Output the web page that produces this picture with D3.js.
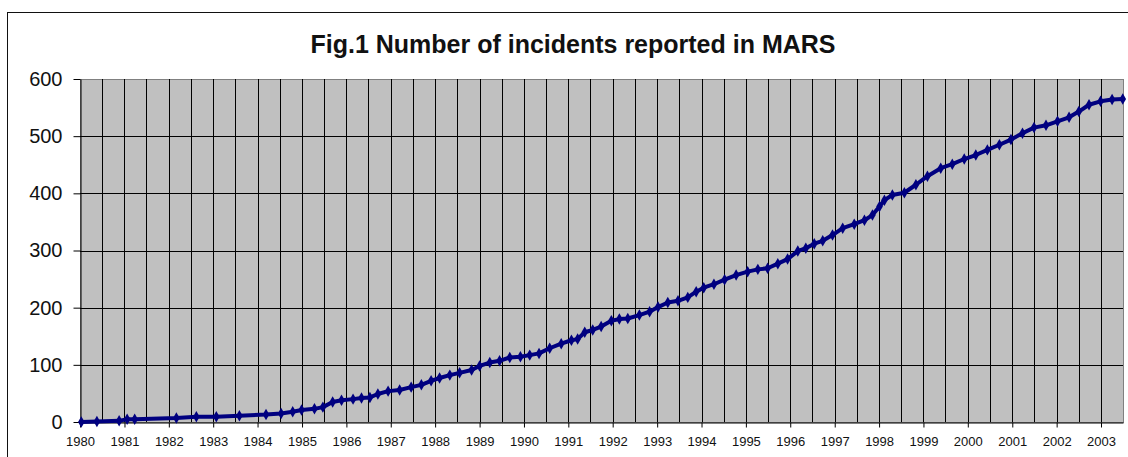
<!DOCTYPE html>
<html>
<head>
<meta charset="utf-8">
<script src="https://cdn.jsdelivr.net/npm/d3@7"></script>
<style>
    body { margin: 0; background: white; }
    svg { font-family: "Liberation Sans", Arial, sans-serif; }
</style>
</head>
<body>
<div id="graphe"></div>
<script>
// data: decimal year of report, cumulative count
const annees = [
    1980.03, 1980.38, 1980.88, 1981.06, 1981.23, 1982.17, 1982.62, 1983.07, 1983.59, 1984.19,
    1984.53, 1984.79, 1984.99, 1985.28, 1985.47, 1985.69, 1985.89, 1986.15, 1986.34, 1986.53,
    1986.71, 1986.94, 1987.20, 1987.46, 1987.69, 1987.91, 1988.10, 1988.33, 1988.55, 1988.82,
    1989.00, 1989.23, 1989.45, 1989.68, 1989.92, 1990.13, 1990.34, 1990.58, 1990.84, 1991.07,
    1991.21, 1991.37, 1991.55, 1991.74, 1991.97, 1992.15, 1992.34, 1992.60, 1992.83, 1993.02,
    1993.24, 1993.47, 1993.69, 1993.88, 1994.05, 1994.28, 1994.52, 1994.78, 1995.04, 1995.27,
    1995.49, 1995.72, 1995.94, 1996.17, 1996.35, 1996.54, 1996.73, 1996.95, 1997.18, 1997.44,
    1997.67, 1997.85, 1998.01, 1998.12, 1998.30, 1998.57, 1998.83, 1999.09, 1999.39, 1999.65,
    1999.92, 2000.18, 2000.44, 2000.71, 2000.97, 2001.23, 2001.49, 2001.76, 2002.02, 2002.28,
    2002.50, 2002.73, 2002.99, 2003.25, 2003.49
];
const incidents = [
    0, 1, 2, 5, 5, 7, 9, 9, 11, 13,
    15, 18, 21, 23, 26, 35, 38, 40, 42, 43,
    49, 54, 56, 61, 65, 72, 77, 82, 86, 91,
    98, 104, 107, 113, 114, 117, 120, 129, 137, 143,
    145, 157, 161, 167, 177, 180, 181, 187, 193, 201,
    209, 212, 218, 228, 235, 241, 249, 257, 263, 267,
    269, 277, 285, 299, 304, 312, 317, 327, 339, 346,
    353, 362, 377, 388, 397, 401, 415, 430, 444, 451,
    460, 467, 476, 485, 494, 505, 515, 519, 526, 533,
    543, 555, 561, 564, 565
];
const ticksY = [0, 100, 200, 300, 400, 500, 600];
const titre = "Fig.1 Number of incidents reported in MARS";

const largeur = 1128, hauteur = 457;
const marge = { gauche: 80, haut: 79, droite: 1123, bas: 422 };

// decimal year -> Date
function versDate(a) {
    const an = Math.floor(a);
    const debut = new Date(an, 0, 1);
    const fin = new Date(an + 1, 0, 1);
    return new Date(debut.getTime() + (a - an) * (fin - debut));
}

const points = annees.map((a, i) => ({ date: versDate(a), n: incidents[i] }));

const svg = d3.select("#graphe").append("svg")
    .attr("width", largeur).attr("height", hauteur);

// outer frame of the chart
svg.append("rect")
    .attr("x", 7.5).attr("y", 12.5)
    .attr("width", largeur + 10).attr("height", hauteur + 10)
    .attr("fill", "white").attr("stroke", "#111");

const x = d3.scaleTime()
    .domain([new Date(1980, 0, 1), new Date(2003, 6, 1)])
    .range([marge.gauche, marge.droite]);
const y = d3.scaleLinear()
    .domain([0, 600])
    .range([marge.bas, marge.haut]);

// plot area
svg.append("rect")
    .attr("x", marge.gauche).attr("y", marge.haut)
    .attr("width", marge.droite - marge.gauche).attr("height", marge.bas - marge.haut)
    .attr("fill", "#c0c0c0").attr("stroke", "#808080")
    .attr("shape-rendering", "crispEdges");

// vertical grid every six months
const demiAnnees = d3.timeMonth.every(6).range(new Date(1980, 6, 1), new Date(2003, 6, 1));
svg.append("g").selectAll("line")
    .data(demiAnnees)
    .join("line")
    .attr("x1", d => Math.round(x(d)) + 0.5).attr("x2", d => Math.round(x(d)) + 0.5)
    .attr("y1", marge.haut).attr("y2", marge.bas)
    .attr("stroke", "black");

// horizontal grid
svg.append("g").selectAll("line")
    .data(ticksY.filter(v => v > 0 && v < 600))
    .join("line")
    .attr("x1", marge.gauche).attr("x2", marge.droite)
    .attr("y1", d => Math.round(y(d)) + 0.5).attr("y2", d => Math.round(y(d)) + 0.5)
    .attr("stroke", "black");

// axes
const axeY = svg.append("g")
    .attr("transform", "translate(" + (marge.gauche + 0.5) + ",0)")
    .call(d3.axisLeft(y).tickValues(ticksY).tickSize(7).tickPadding(11).tickSizeOuter(0));
axeY.select(".domain").attr("stroke", "black");
axeY.selectAll("text").attr("font-size", 20).attr("fill", "#111")
    .attr("font-family", "Liberation Sans, Arial, sans-serif");

const axeX = svg.append("g")
    .attr("transform", "translate(0," + (marge.bas + 0.5) + ")")
    .call(d3.axisBottom(x).ticks(d3.timeYear.every(1)).tickFormat(d3.timeFormat("%Y"))
        .tickSize(5).tickPadding(9).tickSizeOuter(0));
axeX.select(".domain").attr("stroke", "black");
axeX.selectAll("text").attr("font-size", 13).attr("fill", "#111")
    .attr("font-family", "Liberation Sans, Arial, sans-serif");

// series
const ligne = d3.line().x(d => x(d.date)).y(d => y(d.n));
svg.append("path")
    .datum(points)
    .attr("d", ligne)
    .attr("fill", "none")
    .attr("stroke", "#000080")
    .attr("stroke-width", 4)
    .attr("stroke-linejoin", "round");

svg.append("g").selectAll("path")
    .data(points)
    .join("path")
    .attr("transform", d => "translate(" + x(d.date) + "," + y(d.n) + ")")
    .attr("d", d3.symbol().type(d3.symbolDiamond).size(38))
    .attr("fill", "#000080");

// title
svg.append("text")
    .attr("x", 573).attr("y", 53)
    .attr("text-anchor", "middle")
    .attr("font-size", 25).attr("font-weight", "bold")
    .attr("fill", "#111")
    .text(titre);
</script>
</body>
</html>
